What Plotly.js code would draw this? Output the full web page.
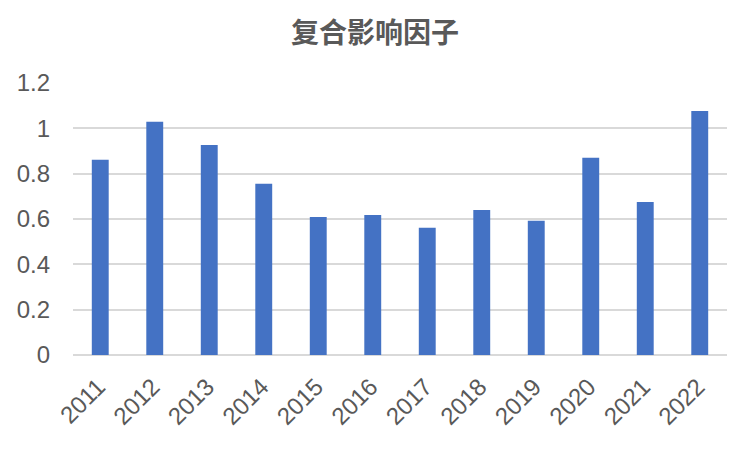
<!DOCTYPE html>
<html>
<head>
<meta charset="utf-8">
<script src="https://cdn.plot.ly/plotly-3.0.1.min.js"></script>
<style>html,body{margin:0;padding:0;background:#fff;}#chart{width:750px;height:449px;}</style>
</head>
<body>
<div id="chart"></div>
<script>
const years = ["2011","2012","2013","2014","2015","2016","2017","2018","2019","2020","2021","2022"];
const values = [0.861, 1.029, 0.927, 0.755, 0.609, 0.618, 0.561, 0.640, 0.592, 0.870, 0.675, 1.077];
const yTicks = [0, 0.2, 0.4, 0.6, 0.8, 1, 1.2];
const yTickText = ["0", "0.2", "0.4", "0.6", "0.8", "1", "1.2"];
const titleText = "复合影响因子";

Plotly.newPlot("chart", [{
  type: "bar",
  x: years,
  y: values,
  width: 0.31,
  marker: {color: "#4472C4"},
  hoverinfo: "x+y"
}], {
  width: 750, height: 449,
  margin: {l: 73, r: 23, t: 83, b: 94},
  paper_bgcolor: "#fff", plot_bgcolor: "#fff",
  title: {text: "<b>" + titleText + "</b>", x: 0.5, xanchor: "center", y: 0.925, yanchor: "middle",
          font: {family: "Noto Sans CJK SC, sans-serif", size: 28, color: "#595959"}},
  xaxis: {type: "category", tickangle: -45, showgrid: false, zeroline: false, showline: false, ticks: "",
          ticklabelshift: -2, ticklabelstandoff: 12,
          tickfont: {family: "Liberation Sans, Arial, sans-serif", size: 24, color: "#595959"}},
  yaxis: {range: [0, 1.2], tickvals: yTicks, ticktext: yTickText, showgrid: true, gridcolor: "#D9D9D9", gridwidth: 2,
          zeroline: true, zerolinecolor: "#D9D9D9", zerolinewidth: 2, showline: false, ticks: "",
          ticklabelstandoff: 22,
          tickfont: {family: "Liberation Sans, Arial, sans-serif", size: 24, color: "#595959"}},
  showlegend: false, bargap: 0.69
}, {displayModeBar: false, staticPlot: true});
</script>
</body>
</html>
